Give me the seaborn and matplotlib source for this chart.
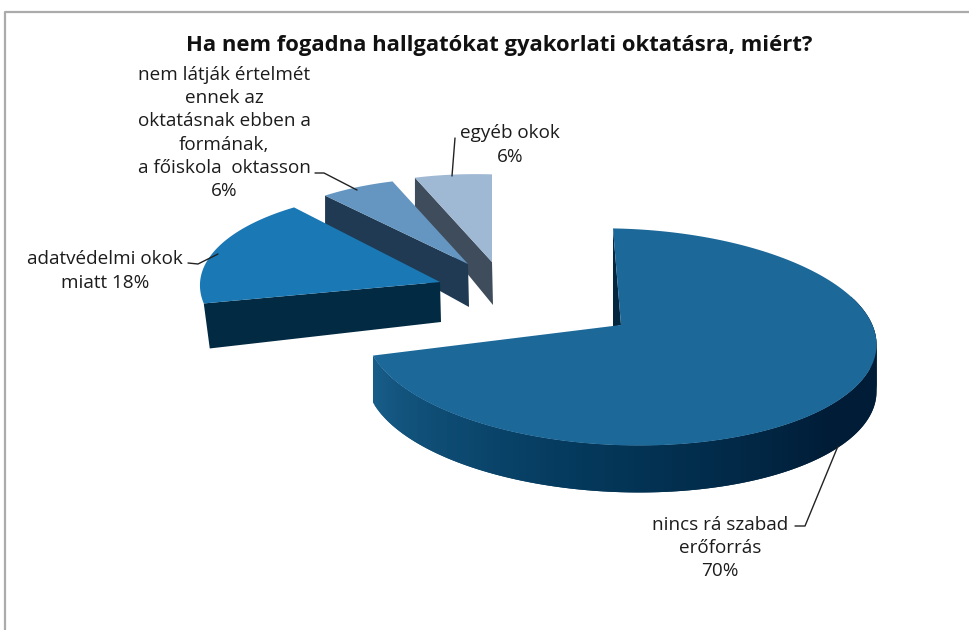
import numpy as np
import matplotlib
matplotlib.use("Agg")
import matplotlib.pyplot as plt
import seaborn as sns

# adatok
TITLE = "Ha nem fogadna hallgatókat gyakorlati oktatásra, miért?"
CATEGORIES = [
    "nincs rá szabad\nerőforrás",
    "adatvédelmi okok\nmiatt",
    "nem látják értelmét\nennek az\noktatásnak ebben a\nformának,\na főiskola  oktasson",
    "egyéb okok",
]
VALUES = [70, 18, 6, 6]
LABEL_SEP = ["\n", " ", "\n", "\n"]

# megjelenés
TOP_COLORS = ["#1C6899", "#1A78B5", "#6496C1", "#9FB8D3"]
WALL_COLORS = ["#04263F", "#032A43", "#1F3A52", "#3F4C5B"]
APEX = [(621, 325), (440, 282), (468, 264), (492, 262)]
RADIUS = [1.0, 0.94, 0.88, 0.90]
ROTATION = [-2, 2, 0, 0]
LABEL_POS = [(720, 548), (105, 271), (224, 133), (510, 145)]
LEADERS = [
    [(838, 446), (805, 526), (795, 526)],
    [(188, 263), (198, 264), (218, 254)],
    [(315, 173), (324, 173), (357, 190)],
    [(455, 138), (452, 176)],
]
RX, RY, PERSP, SKEW, DEPTH = 254, 107, 0.11, 0.03, 47

sns.set_theme(style="white")
plt.rcParams["font.family"] = ["Open Sans", "DejaVu Sans"]
TEXT = "#1c1c1c"


def rim(apex, radius, theta):
    """Pont a szelet peremén, enyhe perspektívával és dőléssel."""
    w = 1 + PERSP * radius * np.cos(theta)
    dx = RX * radius * np.sin(theta) / w
    dy = -RY * radius * np.cos(theta) / w
    return apex[0] + dx, apex[1] + dy + SKEW * dx


fig = plt.figure(figsize=(9.7, 6.3), dpi=100)
ax = fig.add_axes([0, 0, 1, 1])
ax.set_xlim(0, 970)
ax.set_ylim(630, 0)
ax.axis("off")

# keret: csak bal és felső vonal
ax.plot([5.5, 5.5, 970], [630, 11.5, 11.5], color="#ABABAB", lw=1.6, zorder=1)

shares = np.array(VALUES) / sum(VALUES) * 2 * np.pi
starts = np.concatenate([[0], np.cumsum(shares)[:-1]])
wall_ramp = sns.blend_palette(["#001C36", "#001C36", "#04395C", "#175C88"], 120)

# hátsó szeletek előbb, a nagy szelet a végén
for i in [3, 2, 1, 0]:
    t0 = starts[i] + np.radians(ROTATION[i])
    t1 = t0 + shares[i]
    ts = np.linspace(t0, t1, 200)
    xs, ys = rim(APEX[i], RADIUS[i], ts)
    z = 10 + (3 - i) * 3

    if i == 0:
        # külső palást színátmenettel, átfedő sávokkal
        wall_t = np.linspace(np.radians(70), t1, 122)
        wx, wy = rim(APEX[i], RADIUS[i], wall_t)
        for j in range(120):
            ax.fill([wx[j], wx[j + 2], wx[j + 2], wx[j]],
                    [wy[j], wy[j + 2], wy[j + 2] + DEPTH, wy[j] + DEPTH],
                    color=wall_ramp[j], lw=0, zorder=z)
        # vékony belső fal a csúcsnál
        ax.fill([xs[0], APEX[i][0] - 8, APEX[i][0]],
                [ys[0], APEX[i][1] + 2, APEX[i][1]],
                color=WALL_COLORS[i], lw=0, zorder=z)
    elif i == 1:
        # elülső sík fal
        ax.fill([xs[0], APEX[i][0], APEX[i][0] + 1, xs[0] + 6],
                [ys[0], APEX[i][1], APEX[i][1] + 40, ys[0] + 45],
                color=WALL_COLORS[i], lw=0, zorder=z)
    else:
        ax.fill([xs[0], APEX[i][0], APEX[i][0] + 1, xs[0]],
                [ys[0], APEX[i][1], APEX[i][1] + 43, ys[0] + 32],
                color=WALL_COLORS[i], lw=0, zorder=z)

    ax.fill(np.r_[APEX[i][0], xs], np.r_[APEX[i][1], ys],
            color=TOP_COLORS[i], lw=0, zorder=z + 1)

for pts in LEADERS:
    ax.plot(*zip(*pts), color="#222222", lw=1.0, zorder=30)

for cat, val, sep, pos in zip(CATEGORIES, VALUES, LABEL_SEP, LABEL_POS):
    ax.text(pos[0], pos[1], f"{cat}{sep}{val}%", ha="center", va="center",
            multialignment="center", fontsize=13.6, linespacing=1.36,
            color=TEXT, zorder=31)

ax.text(499, 45, TITLE, ha="center", va="center", fontsize=15.8,
        fontweight="bold", color="#111111", zorder=31)

fig.savefig("out.png", dpi=100)
